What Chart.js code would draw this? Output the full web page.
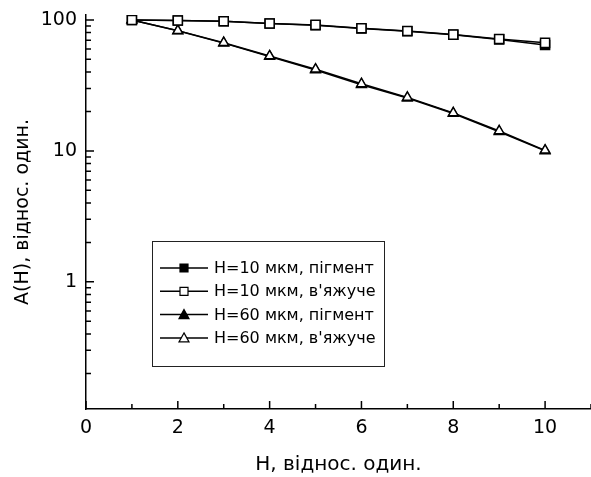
<!DOCTYPE html>
<html>
<head>
<meta charset="utf-8">
<script src="https://cdn.jsdelivr.net/npm/chart.js@4.4.0/dist/chart.umd.min.js"></script>
<style>
  html, body { margin: 0; padding: 0; background: #fff; }
  #wrap { width: 591px; height: 477px; }
</style>
</head>
<body>
<div id="wrap"><canvas id="chart"></canvas></div>
<script>
// data
const hValues = [1, 2, 3, 4, 5, 6, 7, 8, 9, 10];
const h10Pigment = [100, 99, 97.5, 93.8, 91, 86, 82, 77, 71, 64.4];
const h10Binder = [100, 99, 97.7, 94, 91.6, 86.4, 82.4, 77.2, 71.6, 66.8];
const h60Pigment = [100, 82.5, 66.5, 52.5, 41.5, 32, 25.3, 19.3, 14, 10];
const h60Binder = [100, 82.8, 67, 53, 42, 32.5, 25.6, 19.5, 14.2, 10.1];
const seriesLabels = ['H=10 мкм, пігмент', 'H=10 мкм, в\'яжуче', 'H=60 мкм, пігмент', 'H=60 мкм, в\'яжуче'];
const yTickLabels = [1, 10, 100];
const xTickLabels = [0, 2, 4, 6, 8, 10];

const FONT = 'DejaVu Sans, sans-serif';

function makeDataset(label, values, shape, filled, order) {
    return {
        label: label,
        data: hValues.map((h, i) => ({ x: h, y: values[i] })),
        borderColor: '#000',
        borderWidth: 1.5,
        pointStyle: shape,
        pointRadius: shape === 'rect' ? 6.4 : 5.6,
        pointBorderWidth: 1.5,
        pointBorderColor: '#000',
        pointBackgroundColor: filled ? '#000' : '#fff',
        fill: false,
        tension: 0,
        order: order
    };
}

// inward ticks on both axes
const axisTicks = {
    id: 'axisTicks',
    afterDraw(chart) {
        const c = chart.ctx;
        const x = chart.scales.x, y = chart.scales.y;
        const area = chart.chartArea;
        c.save();
        c.strokeStyle = '#000';
        c.lineWidth = 1.5;
        c.beginPath();
        for (let v = 0; v <= 11; v++) {
            const px = x.getPixelForValue(v);
            const len = v % 2 === 0 ? 8 : 5;
            c.moveTo(px, area.bottom);
            c.lineTo(px, area.bottom - len);
        }
        for (let e = -1; e <= 2; e++) {
            for (let m = 1; m <= 9; m++) {
                const v = m * Math.pow(10, e);
                if (v < y.min || v > y.max) continue;
                const py = y.getPixelForValue(v);
                const len = m === 1 ? 8 : 5;
                c.moveTo(area.left, py);
                c.lineTo(area.left + len, py);
            }
        }
        c.stroke();
        c.restore();
    }
};

// legend box inside the plot
const boxLegend = {
    id: 'boxLegend',
    afterDraw(chart) {
        const c = chart.ctx;
        const left = 152, top = 241, w = 232, h = 125;
        c.save();
        c.fillStyle = '#fff';
        c.fillRect(left, top, w, h);
        c.strokeStyle = '#222';
        c.lineWidth = 1;
        c.strokeRect(left + 0.5, top + 0.5, w, h);
        c.font = '16px ' + FONT;
        c.textBaseline = 'middle';
        chart.data.datasets.forEach((ds, i) => {
            const cy = top + 27 + i * 23.3;
            c.strokeStyle = '#000';
            c.lineWidth = 1.5;
            c.beginPath();
            c.moveTo(left + 8, cy);
            c.lineTo(left + 56, cy);
            c.stroke();
            const mx = left + 32;
            c.fillStyle = ds.pointBackgroundColor;
            c.lineWidth = 1.2;
            c.beginPath();
            if (ds.pointStyle === 'rect') {
                c.rect(mx - 4, cy - 4, 8, 8);
            } else {
                c.moveTo(mx, cy - 5);
                c.lineTo(mx + 5, cy + 4);
                c.lineTo(mx - 5, cy + 4);
                c.closePath();
            }
            c.fill();
            c.stroke();
            c.fillStyle = '#000';
            c.fillText(ds.label, left + 62, cy + 1);
        });
        c.restore();
    }
};

const ctx = document.getElementById('chart');
const chart = new Chart(ctx, {
    type: 'line',
    data: {
        datasets: [
            makeDataset(seriesLabels[0], h10Pigment, 'rect', true, 2),
            makeDataset(seriesLabels[1], h10Binder, 'rect', false, 1),
            makeDataset(seriesLabels[2], h60Pigment, 'triangle', true, 2),
            makeDataset(seriesLabels[3], h60Binder, 'triangle', false, 1)
        ]
    },
    options: {
        responsive: true,
        maintainAspectRatio: false,
        animation: false,
        layout: { autoPadding: false, padding: { top: 15, right: 0, left: 0, bottom: 0 } },
        plugins: {
            legend: { display: false },
            tooltip: { enabled: false }
        },
        scales: {
            x: {
                type: 'linear',
                min: 0,
                max: 11,
                border: { display: true, color: '#000', width: 1.5 },
                grid: { display: false, drawTicks: false },
                ticks: {
                    stepSize: 1,
                    autoSkip: false,
                    maxRotation: 0,
                    color: '#000',
                    padding: 8,
                    font: { family: FONT, size: 19 },
                    callback: v => xTickLabels.includes(v) ? String(v) : ''
                },
                title: {
                    display: true,
                    text: 'H, віднос. один.',
                    color: '#000',
                    font: { family: FONT, size: 20 },
                    padding: { top: 0, bottom: 0 }
                },
                afterFit: s => {
                    s.height = 68;
                    s.paddingLeft = 0;
                    s.paddingRight = 0;
                }
            },
            y: {
                type: 'logarithmic',
                min: 0.107,
                max: 109,
                border: { display: true, color: '#000', width: 1.5 },
                grid: { display: false, drawTicks: false },
                ticks: {
                    autoSkip: false,
                    color: '#000',
                    padding: 9,
                    font: { family: FONT, size: 19 },
                    callback: v => {
                        const hit = yTickLabels.find(t => Math.abs(t - v) < 1e-6 * t);
                        return hit ? String(hit) : '';
                    }
                },
                title: {
                    display: true,
                    text: 'A(H), віднос. один.',
                    color: '#000',
                    font: { family: FONT, size: 19 },
                    padding: { top: 12, bottom: 0 }
                },
                afterFit: s => {
                    s.width = 86;
                    s.paddingTop = 0;
                    s.paddingBottom = 0;
                }
            }
        }
    },
    plugins: [axisTicks, boxLegend]
});
</script>
</body>
</html>
